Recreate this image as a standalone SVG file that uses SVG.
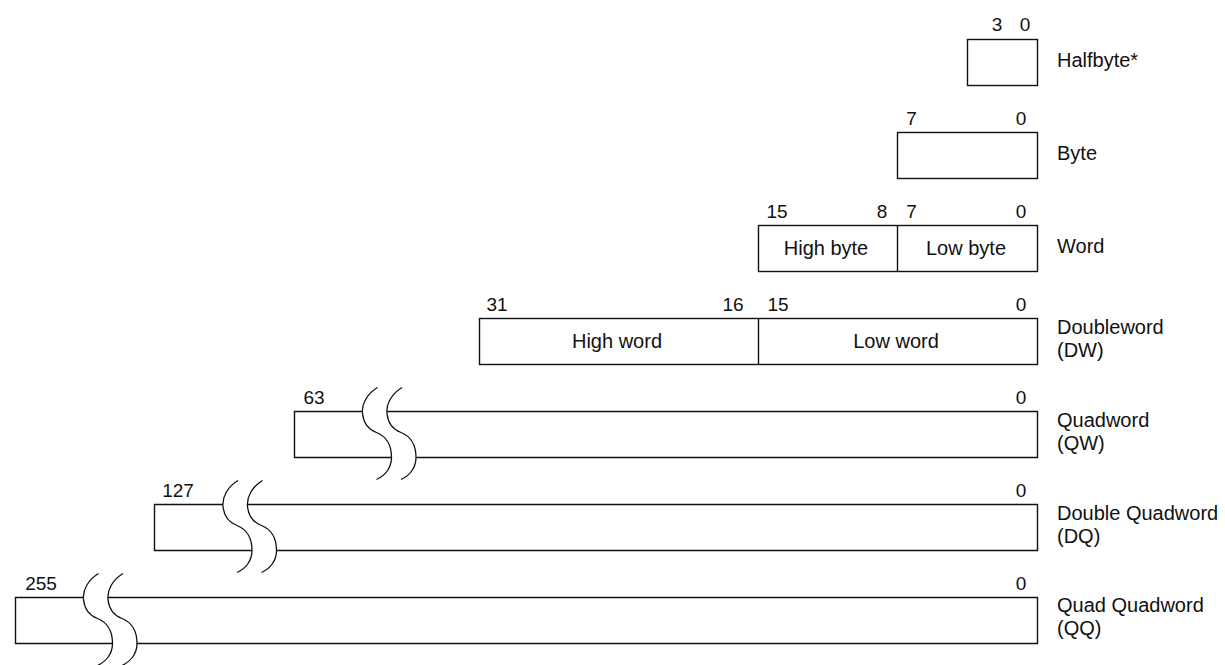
<svg xmlns="http://www.w3.org/2000/svg" width="1225" height="665" viewBox="0 0 1225 665">
<style>
.bx{fill:none;stroke:#111;stroke-width:1.4}
.br{fill:none;stroke:#111;stroke-width:1.3}
text{font-family:"Liberation Sans",Arial,sans-serif;fill:#111}
.n{font-size:19px;text-anchor:middle}
.l{font-size:20px}
.c{font-size:20px;text-anchor:middle}
</style>
<defs>
<path id="brk" class="br" d="M15,-24 C5,-18 -1,-8 0,2 C1,12 6,18 14,21 C24,25 29,34 29,46 C29,56 23,64 14,68"/>
</defs>
<rect width="1225" height="665" fill="#fff"/>

<g id="halfbyte">
<rect class="bx" x="967.5" y="39.5" width="70" height="46"/>
<text class="n" x="997" y="31">3</text>
<text class="n" x="1025" y="31">0</text>
<text class="l" x="1057" y="67">Halfbyte*</text>
</g>

<g id="byte">
<rect class="bx" x="897.5" y="132.5" width="140" height="46"/>
<text class="n" x="911.5" y="125">7</text>
<text class="n" x="1021" y="125">0</text>
<text class="l" x="1057" y="160">Byte</text>
</g>

<g id="word">
<rect class="bx" x="758.5" y="225.5" width="279" height="46"/>
<path class="bx" d="M897.5,225.5V271.5"/>
<text class="n" x="777" y="218">15</text>
<text class="n" x="882" y="218">8</text>
<text class="n" x="911.5" y="218">7</text>
<text class="n" x="1021" y="218">0</text>
<text class="c" x="826" y="255">High byte</text>
<text class="c" x="966" y="255">Low byte</text>
<text class="l" x="1057" y="253">Word</text>
</g>

<g id="doubleword">
<rect class="bx" x="479.5" y="318.5" width="558" height="46"/>
<path class="bx" d="M758.5,318.5V364.5"/>
<text class="n" x="497" y="311">31</text>
<text class="n" x="733" y="311">16</text>
<text class="n" x="778" y="311">15</text>
<text class="n" x="1021" y="311">0</text>
<text class="c" x="617" y="348">High word</text>
<text class="c" x="896" y="348">Low word</text>
<text class="l" x="1057" y="334">Doubleword</text>
<text class="l" x="1057" y="357">(DW)</text>
</g>

<g id="quadword">
<path class="bx" d="M362.5,411.5H294.5V457.5H391.5M416,457.5H1037.5V411.5H387"/>
<use href="#brk" x="362.5" y="411.5"/>
<use href="#brk" x="387" y="411.5"/>
<text class="n" x="314" y="404">63</text>
<text class="n" x="1021" y="404">0</text>
<text class="l" x="1057" y="427">Quadword</text>
<text class="l" x="1057" y="450">(QW)</text>
</g>

<g id="doublequadword">
<path class="bx" d="M223,504.5H154.5V550.5H252M276.5,550.5H1037.5V504.5H247.5"/>
<use href="#brk" x="223" y="504.5"/>
<use href="#brk" x="247.5" y="504.5"/>
<text class="n" x="178" y="497">127</text>
<text class="n" x="1021" y="497">0</text>
<text class="l" x="1057" y="520">Double Quadword</text>
<text class="l" x="1057" y="543">(DQ)</text>
</g>

<g id="quadquadword">
<path class="bx" d="M83.5,597.5H15.5V643.5H112.5M137,643.5H1037.5V597.5H108"/>
<use href="#brk" x="83.5" y="597.5"/>
<use href="#brk" x="108" y="597.5"/>
<text class="n" x="41" y="590">255</text>
<text class="n" x="1021" y="590">0</text>
<text class="l" x="1057" y="612">Quad Quadword</text>
<text class="l" x="1057" y="635">(QQ)</text>
</g>

<g id="connectors"></g>
</svg>
